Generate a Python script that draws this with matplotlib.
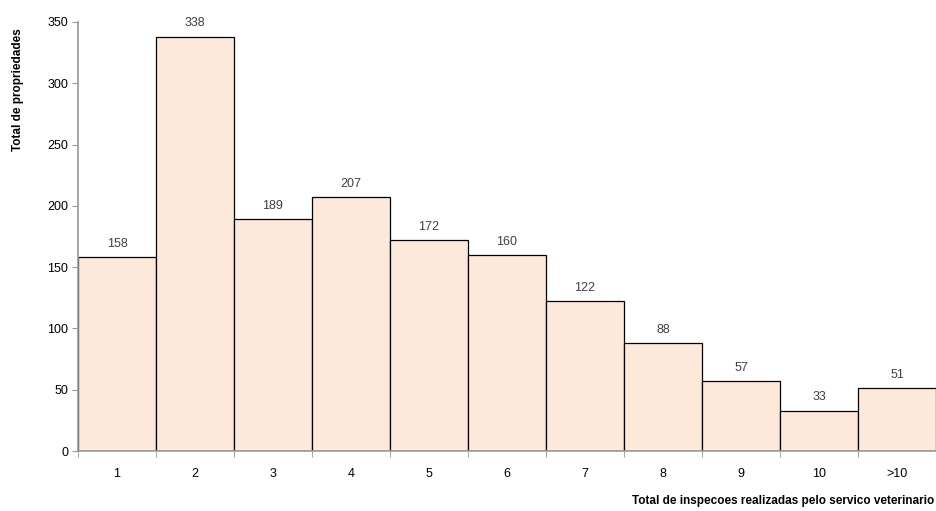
import matplotlib.pyplot as plt
import numpy as np

# categories and counts
categories = ["1", "2", "3", "4", "5", "6", "7", "8", "9", "10", ">10"]
counts = [158, 338, 189, 207, 172, 160, 122, 88, 57, 33, 51]

plt.rcParams['font.family'] = ['Liberation Sans', 'DejaVu Sans']

fig = plt.figure(figsize=(9.36, 5.11), dpi=100)
ax = fig.add_axes([0.0833, 0.1174, 0.9167, 0.8396])

x = np.arange(len(categories))
bars = ax.bar(x, counts, width=1.0, color="#FCE9DA", edgecolor="black", linewidth=0.9)

for xi, v in zip(x, counts):
    ax.text(xi, v + 6, str(v), ha="center", va="bottom", fontsize=9,
            color="#404040", clip_on=False)

ax.set_xlim(-0.5, len(categories) - 0.5)
ax.set_ylim(0, 350)
ax.set_yticks(np.arange(0, 351, 50))
ax.tick_params(axis="y", labelsize=9, length=4, color="#999999", pad=3)

# labels in the middle of each bar, ticks on the boundaries
ax.set_xticks(x)
ax.set_xticklabels(categories, fontsize=9)
ax.tick_params(axis="x", which="major", length=0, pad=12)
ax.set_xticks(np.arange(-0.5, len(categories), 1.0), minor=True)
ax.tick_params(axis="x", which="minor", length=4, color="#999999")

for side in ["top", "right"]:
    ax.spines[side].set_visible(False)
for side in ["left", "bottom"]:
    ax.spines[side].set_color("#999999")
    ax.spines[side].set_linewidth(1.2)

fig.text(0.998, 0.008, "Total de inspecoes realizadas pelo servico veterinario",
         ha="right", va="bottom", fontsize=8.5, fontweight="bold")
fig.text(0.019, 0.825, "Total de propriedades", rotation=90, ha="center",
         va="center", fontsize=8.5, fontweight="bold")

fig.savefig("out.png", dpi=100)
